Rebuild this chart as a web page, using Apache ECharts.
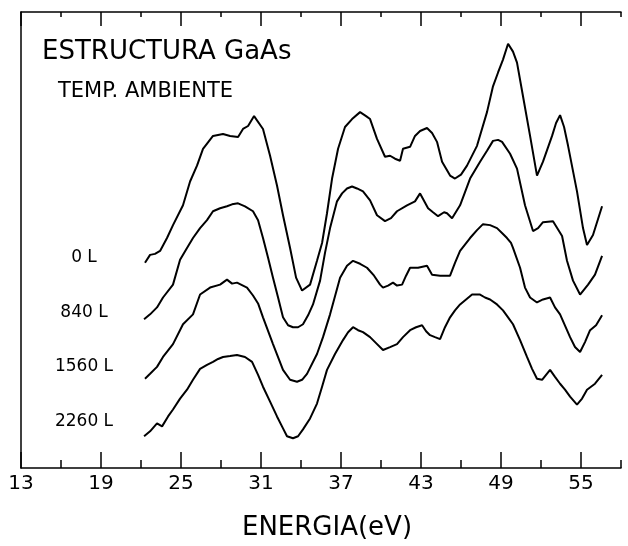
<!DOCTYPE html>
<html>
<head>
<meta charset="utf-8">
<script src="https://cdn.jsdelivr.net/npm/echarts@6.0.0/dist/echarts.min.js"></script>
<style>
  html, body { margin: 0; padding: 0; background: #fff; }
  #chart { width: 628px; height: 546px; }
</style>
</head>
<body>
<div id="chart"></div>
<script>
// ticks of the energy axis (eV)
var majorTicks = [13, 19, 25, 31, 37, 43, 49, 55];
var minorTicks = [16, 22, 28, 34, 40, 46, 52, 58];

// curve labels (exposure)
var curveLabels = ['0 L', '840 L', '1560 L', '2260 L'];

// 0 L curve  (energy eV / intensity, arbitrary units)
var energyA = [22.3, 22.68, 23.05, 23.43, 23.95, 24.4, 25.15, 25.68, 26.2, 26.65, 27.4, 28.15, 28.68, 29.28, 29.65, 30.03, 30.48, 31.15, 31.68, 32.2, 32.65, 33.18, 33.63, 34.08, 34.68, 35.2, 35.58, 35.95, 36.33, 36.78, 37.3, 37.83, 38.43, 38.88, 39.18, 39.7, 40.3, 40.68, 41.05, 41.43, 41.65, 42.18, 42.55, 42.93, 43.45, 43.83, 44.2, 44.58, 45.18, 45.55, 46.0, 46.45, 47.2, 47.95, 48.4, 48.78, 49.15, 49.53, 49.9, 50.2, 50.65, 51.18, 51.7, 52.15, 52.83, 53.13, 53.43, 53.73, 54.03, 54.7, 55.15, 55.45, 55.9, 56.58];
var valueA = [207, 215, 216, 219, 232, 245, 265, 289, 305, 322, 335, 337, 335, 334, 342, 345, 355, 342, 315, 285, 255, 222, 192, 179, 185, 209, 227, 257, 292, 322, 344, 352, 359, 355, 352, 332, 314, 315, 312, 310, 322, 324, 335, 340, 343, 338, 329, 309, 295, 292, 296, 305, 325, 359, 385, 399, 412, 428, 420, 409, 375, 335, 295, 309, 335, 348, 356, 344, 325, 279, 242, 225, 235, 264];

// 840 L curve
var energyB = [22.23, 22.68, 23.2, 23.65, 24.4, 24.93, 25.45, 25.9, 26.43, 26.95, 27.4, 27.93, 28.45, 28.83, 29.28, 29.8, 30.4, 30.78, 31.15, 31.53, 31.9, 32.28, 32.65, 33.03, 33.4, 33.78, 34.15, 34.53, 34.9, 35.43, 35.8, 36.18, 36.7, 37.08, 37.45, 37.83, 38.2, 38.65, 39.18, 39.7, 40.3, 40.75, 41.2, 41.95, 42.55, 42.93, 43.53, 43.9, 44.28, 44.73, 44.95, 45.33, 45.93, 46.68, 47.43, 47.95, 48.4, 48.78, 49.08, 49.68, 50.2, 50.8, 51.4, 51.78, 52.15, 52.9, 53.58, 53.95, 54.4, 54.93, 55.53, 56.05, 56.58];
var valueB = [150, 155, 162, 172, 185, 210, 222, 232, 242, 250, 259, 262, 264, 266, 267, 264, 259, 250, 232, 212, 192, 172, 152, 144, 142, 142, 145, 154, 165, 189, 217, 242, 269, 277, 282, 284, 282, 279, 270, 255, 249, 252, 259, 265, 269, 277, 262, 258, 254, 258, 257, 252, 265, 292, 309, 320, 330, 331, 329, 317, 302, 265, 239, 242, 248, 249, 234, 209, 189, 175, 185, 195, 214];

// 1560 L curve
var energyC = [22.3, 22.68, 23.2, 23.65, 24.4, 25.15, 25.9, 26.43, 27.18, 27.93, 28.45, 28.83, 29.2, 29.95, 30.4, 30.78, 31.15, 31.9, 32.65, 33.18, 33.7, 34.08, 34.45, 35.2, 35.65, 36.18, 36.93, 37.45, 37.9, 38.43, 38.95, 39.48, 39.93, 40.15, 40.53, 40.9, 41.2, 41.58, 41.88, 42.18, 42.78, 43.45, 43.83, 44.43, 45.18, 45.55, 45.93, 46.68, 47.2, 47.65, 48.18, 48.7, 49.15, 49.45, 49.75, 49.9, 50.43, 50.8, 51.18, 51.7, 52.15, 52.68, 53.05, 53.43, 54.18, 54.55, 54.93, 55.3, 55.68, 56.13, 56.58];
var valueC = [90, 95, 102, 112, 125, 145, 155, 175, 182, 185, 190, 186, 187, 182, 174, 166, 152, 125, 99, 89, 87, 89, 95, 115, 132, 155, 192, 204, 209, 206, 202, 194, 185, 182, 184, 187, 184, 185, 194, 202, 202, 204, 195, 194, 194, 207, 219, 232, 240, 246, 245, 242, 236, 232, 227, 222, 202, 182, 172, 167, 170, 172, 162, 155, 132, 122, 117, 127, 139, 144, 154];

// 2260 L curve
var energyD = [22.23, 22.68, 23.2, 23.58, 24.03, 24.4, 24.93, 25.45, 25.9, 26.43, 26.95, 27.4, 27.78, 28.15, 28.68, 29.2, 29.8, 30.33, 30.78, 31.15, 31.68, 32.2, 32.65, 32.95, 33.4, 33.78, 34.15, 34.68, 35.2, 35.58, 35.95, 36.55, 37.15, 37.53, 37.9, 38.28, 38.65, 39.18, 39.63, 40.15, 40.68, 41.2, 41.65, 42.18, 42.63, 43.08, 43.38, 43.68, 44.05, 44.43, 44.8, 45.18, 45.55, 45.93, 46.38, 46.83, 47.43, 47.8, 48.18, 48.7, 49.15, 49.53, 49.9, 50.43, 50.95, 51.33, 51.7, 52.08, 52.38, 52.68, 53.05, 53.43, 53.8, 54.18, 54.7, 55.08, 55.45, 56.05, 56.58];
var valueD = [32, 37, 45, 42, 52, 59, 70, 79, 89, 100, 104, 107, 110, 112, 113, 114, 112, 107, 94, 82, 67, 52, 40, 32, 30, 32, 39, 50, 65, 82, 99, 115, 129, 137, 142, 139, 137, 132, 126, 119, 122, 125, 132, 139, 142, 144, 138, 134, 132, 130, 142, 152, 159, 165, 170, 175, 175, 172, 170, 165, 159, 152, 145, 129, 112, 100, 90, 89, 94, 99, 92, 85, 79, 72, 64, 70, 79, 85, 94];

var FONT = 'DejaVu Sans';

function pairs(xs, ys) {
  return xs.map(function (x, i) { return [x, ys[i]]; });
}

function curve(xs, ys) {
  return {
    type: 'line',
    data: pairs(xs, ys),
    showSymbol: false,
    silent: true,
    lineStyle: { color: '#000', width: 2 }
  };
}

function energyAxis(position, ticks, tickLen, showLine, showLabel) {
  return {
    type: 'value',
    position: position,
    min: 13,
    max: 58,
    axisLine: { show: showLine, lineStyle: { color: '#000', width: 1.5 } },
    axisTick: { show: true, inside: true, customValues: ticks, length: tickLen, lineStyle: { color: '#000', width: 1.5 } },
    axisLabel: showLabel ? {
      customValues: ticks, margin: 6, color: '#000', fontSize: 20, fontFamily: FONT
    } : { show: false },
    splitLine: { show: false }
  };
}

var bottomMajor = energyAxis('bottom', majorTicks, 16, true, true);
bottomMajor.name = 'ENERGIA(eV)';
bottomMajor.nameLocation = 'middle';
bottomMajor.nameGap = 47;
bottomMajor.nameTextStyle = { color: '#000', fontSize: 26, fontFamily: FONT, padding: [0, 0, 0, 12] };

var labelY = [258, 313, 367, 422];
var texts = [
  { type: 'text', left: 42, top: 39, style: { text: 'ESTRUCTURA GaAs', fill: '#000', font: '26px "' + FONT + '"' } },
  { type: 'text', left: 58, top: 81, style: { text: 'TEMP. AMBIENTE', fill: '#000', font: '21px "' + FONT + '"' } }
];
curveLabels.forEach(function (t, i) {
  texts.push({
    type: 'text', x: 84, y: labelY[i],
    style: { text: t, fill: '#000', font: '17px "' + FONT + '"', align: 'center', verticalAlign: 'middle' }
  });
});

var option = {
  backgroundColor: '#fff',
  animation: false,
  grid: { left: 21, right: 7, top: 12, bottom: 74 },
  xAxis: [
    bottomMajor,
    energyAxis('bottom', minorTicks, 8, false, false),
    energyAxis('top', majorTicks, 14, true, false),
    energyAxis('top', minorTicks, 5, false, false)
  ],
  yAxis: {
    type: 'value',
    min: 0,
    max: 460,
    axisLine: { show: true, lineStyle: { color: '#000', width: 1.5 } },
    axisTick: { show: false },
    axisLabel: { show: false },
    splitLine: { show: false }
  },
  graphic: texts,
  series: [
    curve(energyA, valueA),
    curve(energyB, valueB),
    curve(energyC, valueC),
    curve(energyD, valueD)
  ]
};

function init() {
  var chart = echarts.init(document.getElementById('chart'));
  chart.setOption(option);
  window.onresize = chart.resize;
}
init();
</script>
</body>
</html>
